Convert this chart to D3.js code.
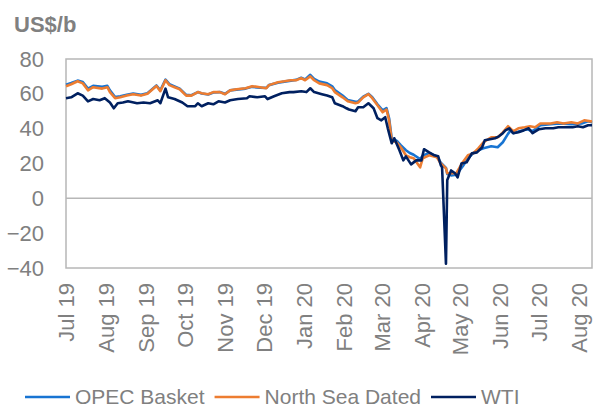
<!DOCTYPE html>
<html>
<head>
<meta charset="utf-8">
<script src="https://cdn.jsdelivr.net/npm/d3@7"></script>
<style>
  body { margin: 0; background: #fff; }
  svg text { font-family: Arial, "Liberation Sans", sans-serif; }
</style>
</head>
<body>
<div id="chart"></div>
<script>
// crude prices, US$/b
const opecBasket = [
  ["2019-07-01", 65.2], ["2019-07-05", 66.2], ["2019-07-10", 67.6], ["2019-07-14", 66.8],
  ["2019-07-18", 63], ["2019-07-22", 64.6], ["2019-07-29", 64], ["2019-08-02", 64.6],
  ["2019-08-04", 62], ["2019-08-08", 58.2], ["2019-08-12", 58.6], ["2019-08-17", 59.5],
  ["2019-08-22", 60.2], ["2019-08-28", 59.4], ["2019-09-02", 60.4], ["2019-09-09", 64.8],
  ["2019-09-12", 62], ["2019-09-16", 68.2], ["2019-09-19", 65.6], ["2019-09-23", 64.3],
  ["2019-09-27", 63], ["2019-10-02", 59.4], ["2019-10-06", 59.2], ["2019-10-11", 61],
  ["2019-10-14", 60.2], ["2019-10-19", 59.6], ["2019-10-23", 60.8], ["2019-10-28", 61],
  ["2019-11-01", 60], ["2019-11-05", 62], ["2019-11-10", 62.4], ["2019-11-17", 63],
  ["2019-11-22", 64], ["2019-11-28", 63.5], ["2019-12-03", 63.4], ["2019-12-05", 65],
  ["2019-12-12", 66.4], ["2019-12-17", 67], ["2019-12-22", 67.6], ["2019-12-26", 68],
  ["2019-12-30", 69.2], ["2020-01-02", 68.3], ["2020-01-06", 70.9], ["2020-01-09", 68.6],
  ["2020-01-13", 67], ["2020-01-19", 66], ["2020-01-23", 64.3], ["2020-01-25", 62.2],
  ["2020-01-31", 59], ["2020-02-04", 56.5], ["2020-02-10", 55.4], ["2020-02-12", 55.6],
  ["2020-02-16", 58.4], ["2020-02-20", 60], ["2020-02-23", 58], ["2020-02-27", 54],
  ["2020-03-02", 50.5], ["2020-03-05", 51.8], ["2020-03-07", 46], ["2020-03-09", 34.5],
  ["2020-03-13", 33], ["2020-03-16", 30.5], ["2020-03-20", 27.6], ["2020-03-23", 26],
  ["2020-03-26", 25], ["2020-03-31", 22.5], ["2020-04-02", 24.5], ["2020-04-07", 26],
  ["2020-04-13", 24], ["2020-04-16", 20.5], ["2020-04-20", 17.5], ["2020-04-21", 14],
  ["2020-04-24", 13.2], ["2020-04-28", 13.5], ["2020-05-03", 18.4], ["2020-05-07", 23],
  ["2020-05-11", 25.8], ["2020-05-15", 27.6], ["2020-05-19", 28.7], ["2020-05-25", 29.9],
  ["2020-05-30", 29.3], ["2020-06-03", 32.2], ["2020-06-07", 37], ["2020-06-09", 39],
  ["2020-06-11", 37.4], ["2020-06-16", 38.5], ["2020-06-22", 39.7], ["2020-06-26", 38.5],
  ["2020-07-02", 42], ["2020-07-10", 42.5], ["2020-07-17", 43], ["2020-07-26", 42.5],
  ["2020-08-03", 43], ["2020-08-08", 44.2], ["2020-08-11", 43.7]
];

const northSeaDated = [
  ["2019-07-01", 64.4], ["2019-07-05", 65.5], ["2019-07-10", 67.2], ["2019-07-14", 66],
  ["2019-07-18", 62], ["2019-07-22", 63.8], ["2019-07-29", 63], ["2019-08-02", 63.8],
  ["2019-08-04", 61], ["2019-08-08", 57.5], ["2019-08-12", 58], ["2019-08-17", 59],
  ["2019-08-22", 59.8], ["2019-08-28", 59], ["2019-09-02", 60], ["2019-09-09", 64.5],
  ["2019-09-12", 61.5], ["2019-09-16", 67.8], ["2019-09-19", 65], ["2019-09-23", 63.8],
  ["2019-09-27", 62.6], ["2019-10-02", 59], ["2019-10-06", 59], ["2019-10-11", 61],
  ["2019-10-14", 60.3], ["2019-10-19", 59.8], ["2019-10-23", 61], ["2019-10-28", 61],
  ["2019-11-01", 59.8], ["2019-11-05", 62], ["2019-11-10", 62.6], ["2019-11-17", 63.2],
  ["2019-11-22", 64.4], ["2019-11-28", 63.8], ["2019-12-03", 63.2], ["2019-12-05", 65],
  ["2019-12-12", 66.7], ["2019-12-17", 67.2], ["2019-12-22", 67.8], ["2019-12-26", 67.8],
  ["2019-12-30", 69], ["2020-01-02", 67.8], ["2020-01-06", 70], ["2020-01-09", 67.8],
  ["2020-01-13", 66], ["2020-01-19", 65], ["2020-01-23", 63.2], ["2020-01-25", 61],
  ["2020-01-31", 58], ["2020-02-04", 55.7], ["2020-02-10", 54.6], ["2020-02-12", 55],
  ["2020-02-16", 58], ["2020-02-20", 59.8], ["2020-02-23", 57.5], ["2020-02-27", 53.4],
  ["2020-03-02", 49.4], ["2020-03-05", 51], ["2020-03-07", 44.8], ["2020-03-09", 33.3],
  ["2020-03-13", 32], ["2020-03-16", 29.3], ["2020-03-20", 24.7], ["2020-03-23", 23.6],
  ["2020-03-26", 23], ["2020-03-31", 17.8], ["2020-04-02", 23], ["2020-04-07", 24.7],
  ["2020-04-13", 23.6], ["2020-04-16", 20], ["2020-04-20", 17.2], ["2020-04-21", 14.4],
  ["2020-04-24", 14.4], ["2020-04-28", 14.4], ["2020-05-03", 20.7], ["2020-05-07", 24.7],
  ["2020-05-11", 25.8], ["2020-05-15", 28.7], ["2020-05-19", 32.2], ["2020-05-25", 35],
  ["2020-05-30", 35], ["2020-06-03", 37.9], ["2020-06-07", 41.4], ["2020-06-11", 38.5],
  ["2020-06-15", 40.2], ["2020-06-20", 40.8], ["2020-06-24", 41.4], ["2020-06-28", 40.8],
  ["2020-07-02", 43], ["2020-07-10", 43], ["2020-07-15", 43.7], ["2020-07-20", 43],
  ["2020-07-26", 43.7], ["2020-07-31", 43], ["2020-08-05", 44.8], ["2020-08-10", 44.2],
  ["2020-08-11", 44.3]
];

const wti = [
  ["2019-07-01", 57.5], ["2019-07-05", 58], ["2019-07-10", 60.3], ["2019-07-14", 59],
  ["2019-07-18", 55.7], ["2019-07-22", 57], ["2019-07-27", 56.3], ["2019-07-31", 57.5],
  ["2019-08-04", 55], ["2019-08-07", 51.7], ["2019-08-10", 54.6], ["2019-08-14", 55],
  ["2019-08-18", 55.7], ["2019-08-25", 54.6], ["2019-08-30", 55], ["2019-09-04", 54.6],
  ["2019-09-10", 56.3], ["2019-09-12", 54.6], ["2019-09-16", 63], ["2019-09-18", 58],
  ["2019-09-23", 57], ["2019-09-29", 55], ["2019-10-03", 52.9], ["2019-10-09", 52.9],
  ["2019-10-11", 54.6], ["2019-10-14", 52.9], ["2019-10-19", 54.6], ["2019-10-23", 54],
  ["2019-10-27", 55.7], ["2019-11-01", 55], ["2019-11-05", 56.3], ["2019-11-11", 57],
  ["2019-11-18", 57.5], ["2019-11-20", 58.6], ["2019-11-26", 58], ["2019-12-02", 58.6],
  ["2019-12-04", 57], ["2019-12-09", 58.6], ["2019-12-15", 60.3], ["2019-12-21", 61],
  ["2019-12-24", 61], ["2019-12-30", 61.5], ["2020-01-03", 61], ["2020-01-06", 63.2],
  ["2020-01-09", 61], ["2020-01-15", 59.8], ["2020-01-19", 59], ["2020-01-23", 58],
  ["2020-01-25", 54.6], ["2020-01-31", 52.9], ["2020-02-03", 51.7], ["2020-02-05", 51],
  ["2020-02-10", 50], ["2020-02-12", 52.3], ["2020-02-16", 52.3], ["2020-02-20", 54.6],
  ["2020-02-24", 51.7], ["2020-02-27", 46], ["2020-03-01", 44.8], ["2020-03-04", 46.6],
  ["2020-03-06", 40.2], ["2020-03-09", 31.6], ["2020-03-11", 34.5], ["2020-03-15", 27.6],
  ["2020-03-18", 21.8], ["2020-03-20", 24.1], ["2020-03-24", 19.5], ["2020-03-28", 21.8],
  ["2020-04-01", 21.8], ["2020-04-03", 28.2], ["2020-04-07", 26.4], ["2020-04-11", 24.7],
  ["2020-04-14", 24.1], ["2020-04-16", 19], ["2020-04-17", 17.8], ["2020-04-20", -37.6],
  ["2020-04-21", 10.5], ["2020-04-24", 16], ["2020-04-27", 14.4], ["2020-04-29", 12],
  ["2020-05-02", 20], ["2020-05-06", 20.7], ["2020-05-10", 25.8], ["2020-05-14", 26.4],
  ["2020-05-18", 29.3], ["2020-05-20", 33.3], ["2020-05-24", 33.9], ["2020-05-28", 34.5],
  ["2020-05-31", 35.6], ["2020-06-03", 37.4], ["2020-06-05", 39], ["2020-06-08", 40.2],
  ["2020-06-11", 37.4], ["2020-06-15", 37.9], ["2020-06-19", 39], ["2020-06-23", 40.2],
  ["2020-06-26", 37.4], ["2020-07-01", 39.7], ["2020-07-06", 40.2], ["2020-07-12", 40.2],
  ["2020-07-16", 40.8], ["2020-07-22", 40.8], ["2020-07-27", 40.8], ["2020-07-31", 41.4],
  ["2020-08-04", 40.8], ["2020-08-08", 42], ["2020-08-11", 42]
];

const seriesNames = ["OPEC Basket", "North Sea Dated", "WTI"];
const seriesColors = ["#1874d2", "#ed7d31", "#002060"];
const yTicks = [-40, -20, 0, 20, 40, 60, 80];
const dateRange = ["2019-07-01", "2020-08-11"];

const parse = d3.timeParse("%Y-%m-%d");
const allSeries = [opecBasket, northSeaDated, wti].map(s => s.map(d => ({ date: parse(d[0]), value: d[1] })));

const W = 595, H = 409;
const margin = { top: 59, right: 3, bottom: 141, left: 66 };
const width = W - margin.left - margin.right;
const height = H - margin.top - margin.bottom;
const grey = "#808080";
const lineGrey = "#b7b7b7";

const svg = d3.select("#chart").append("svg")
  .attr("width", W)
  .attr("height", H);

// unit label
svg.append("text")
  .attr("x", 14)
  .attr("y", 32)
  .attr("fill", grey)
  .style("font-size", "22px")
  .style("font-weight", "bold")
  .text("US$/b");

const g = svg.append("g")
  .attr("transform", `translate(${margin.left},${margin.top})`);

const x = d3.scaleTime()
  .domain(dateRange.map(parse))
  .range([0, width]);

const y = d3.scaleLinear()
  .domain([-40, 80])
  .range([height, 0]);

// frame + zero line
g.append("rect")
  .attr("width", width)
  .attr("height", height)
  .attr("fill", "none")
  .attr("stroke", lineGrey)
  .attr("stroke-width", 1.5);

g.append("line")
  .attr("x1", 0)
  .attr("x2", width)
  .attr("y1", y(0))
  .attr("y2", y(0))
  .attr("stroke", lineGrey)
  .attr("stroke-width", 1.5);

// y axis
const yAxis = g.append("g")
  .call(d3.axisLeft(y).tickValues(yTicks).tickSize(0).tickPadding(22));
yAxis.select(".domain").remove();
yAxis.selectAll("text")
  .attr("fill", grey)
  .style("font-size", "22px");

// x axis, month labels rotated
const xAxis = g.append("g")
  .attr("transform", `translate(0,${height})`)
  .call(d3.axisBottom(x)
    .tickValues(d3.timeMonth.range(parse("2019-07-01"), parse("2020-08-02")))
    .tickFormat(d3.timeFormat("%b %y"))
    .tickSize(0));
xAxis.select(".domain").remove();
xAxis.selectAll("text")
  .attr("fill", grey)
  .style("font-size", "22px")
  .attr("text-anchor", "end")
  .attr("transform", "rotate(-90)")
  .attr("x", -15)
  .attr("y", 0)
  .attr("dy", "0.35em");

// lines
const line = d3.line()
  .x(d => x(d.date))
  .y(d => y(d.value));

g.selectAll(".series")
  .data(allSeries)
  .enter()
  .append("path")
  .attr("class", "series")
  .attr("d", line)
  .attr("fill", "none")
  .attr("stroke", (d, i) => seriesColors[i])
  .attr("stroke-width", 2.6)
  .attr("stroke-linejoin", "round");

// legend
const legend = svg.append("g").attr("transform", "translate(25,397)");
let lx = 0;
seriesNames.forEach((name, i) => {
  legend.append("line")
    .attr("x1", lx)
    .attr("x2", lx + 45)
    .attr("stroke", seriesColors[i])
    .attr("stroke-width", 2.6);
  const t = legend.append("text")
    .attr("x", lx + 50)
    .attr("dy", "0.35em")
    .attr("fill", grey)
    .style("font-size", "21px")
    .text(name);
  lx += 50 + t.node().getComputedTextLength() + 10;
});
</script>
</body>
</html>
